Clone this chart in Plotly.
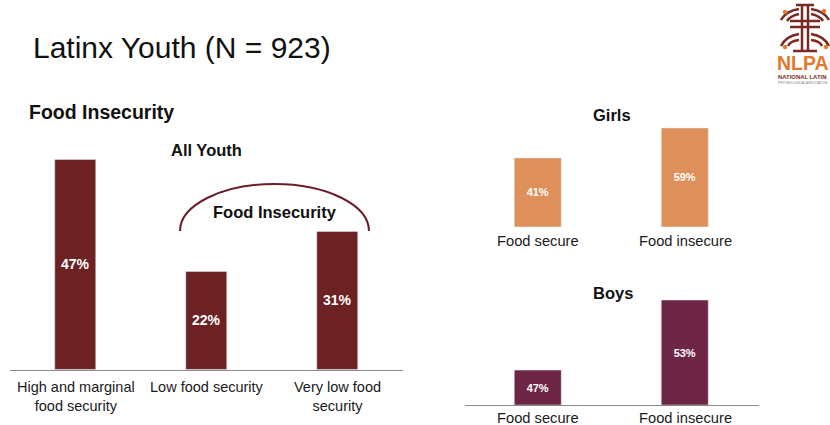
import plotly.graph_objects as go

W, H = 830, 425

# ---- data ----
all_cats = ["High and marginal\nfood security", "Low food security", "Very low food\nsecurity"]
all_vals = [47, 22, 31]
girls_cats = ["Food secure", "Food insecure"]
girls_vals = [41, 59]
boys_cats = ["Food secure", "Food insecure"]
boys_vals = [47, 53]
boys_axis_min = 44

MAROON = "#6C2123"
ORANGE = "#DE8F5A"
PLUM = "#6D2645"
BROWN = "#7A2A22"
LOGO_ORANGE = "#E07A2C"
FONT = "Liberation Sans, Arial, Helvetica, sans-serif"


def px(x):
    return x / W


def py(y):
    return 1 - y / H


fig = go.Figure()

fig.add_trace(go.Bar(
    x=list(range(len(all_vals))), y=all_vals, width=0.313, marker_color=MAROON,
    text=[f"<b>{v}%</b>" for v in all_vals], textposition="inside",
    insidetextanchor="middle", textangle=0, constraintext="none",
    textfont=dict(color="white", size=14, family=FONT),
    xaxis="x", yaxis="y", showlegend=False))

fig.add_trace(go.Bar(
    x=list(range(len(girls_vals))), y=girls_vals, width=0.313, marker_color=ORANGE,
    text=[f"<b>{v}%</b>" for v in girls_vals], textposition="inside",
    insidetextanchor="middle", textangle=0, constraintext="none",
    textfont=dict(color="white", size=11, family=FONT),
    xaxis="x2", yaxis="y2", showlegend=False))

fig.add_trace(go.Bar(
    x=list(range(len(boys_vals))), y=[v - boys_axis_min for v in boys_vals],
    base=boys_axis_min, width=0.313, marker_color=PLUM,
    text=[f"<b>{v}%</b>" for v in boys_vals], textposition="inside",
    insidetextanchor="middle", textangle=0, constraintext="none",
    textfont=dict(color="white", size=11, family=FONT),
    xaxis="x3", yaxis="y3", showlegend=False))

hidden_y = dict(visible=False, fixedrange=True)

fig.update_layout(
    width=W, height=H, margin=dict(l=0, r=0, t=0, b=0),
    paper_bgcolor="white", plot_bgcolor="rgba(0,0,0,0)",
    font=dict(family=FONT, color="#1a1a1a"),
    xaxis=dict(domain=[px(10), px(403)], range=[-0.5, 2.5], showticklabels=False,
               showgrid=False, zeroline=False, showline=True, linecolor="#8a8a8a",
               linewidth=1, ticks="", anchor="y"),
    yaxis=dict(domain=[py(370), py(146.7)], range=[0, 50], anchor="x", **hidden_y),
    xaxis2=dict(domain=[px(464.5), px(758.5)], range=[-0.5, 1.5], showticklabels=False,
                showgrid=False, zeroline=False, showline=False, ticks="", anchor="y2"),
    yaxis2=dict(domain=[py(227), py(126.2)], range=[0, 60], anchor="x2", **hidden_y),
    xaxis3=dict(domain=[px(464.5), px(758.5)], range=[-0.5, 1.5], showticklabels=False,
                showgrid=False, zeroline=False, showline=True, linecolor="#8a8a8a",
                linewidth=1, ticks="", anchor="y3"),
    yaxis3=dict(domain=[py(405), py(288.3)], range=[boys_axis_min, 54], anchor="x3", **hidden_y),
)

ann = []


def text(x, y, s, size, bold=False, xanchor="center", color="#111111", xref="paper",
         yanchor="middle"):
    ann.append(dict(
        x=x, y=py(y), xref=xref, yref="paper", text=f"<b>{s}</b>" if bold else s,
        showarrow=False, xanchor=xanchor, yanchor=yanchor,
        font=dict(size=size, color=color, family=FONT)))


# category labels
for i, lab in enumerate(all_cats):
    text(i, 377, lab.replace("\n", "<br>"), 14.5, xref="x", color="#1a1a1a", yanchor="top")
for i, lab in enumerate(girls_cats):
    text(i, 241, lab, 14.7, xref="x2", color="#1a1a1a")
for i, lab in enumerate(boys_cats):
    text(i, 418, lab, 14.7, xref="x3", color="#1a1a1a")

# titles
text(px(31), 48, "Latinx Youth (N = 923)", 30, xanchor="left")
text(px(26.5), 112, "Food Insecurity", 19.5, bold=True, xanchor="left")
text(px(206.5), 150, "All Youth", 16.5, bold=True)
text(px(274.5), 212, "Food Insecurity", 16.5, bold=True)
text(px(612), 115, "Girls", 16.5, bold=True)
text(px(612.5), 293, "Boys", 16.5, bold=True)

# logo text
text(px(775), 62.5, "NLPA", 19.5, bold=True, xanchor="left", color=LOGO_ORANGE)
text(px(776), 77, "NATIONAL LATIN", 5.9, bold=True, xanchor="left", color=BROWN)
text(px(776), 83, "PSYCHOLOGICAL ASSOCIATION", 3.2, xanchor="left", color="#777777")

fig.update_layout(annotations=ann)

shapes = []

# arc over food-insecurity bars (half ellipse)
cx, cy, rx, ry = 274.5, 231, 94.5, 47
k = 0.5523


def P(x, y):
    return f"{px(x):.5f},{py(y):.5f}"


arc = (f"M {P(cx - rx, cy)} "
       f"C {P(cx - rx, cy - k * ry)} {P(cx - k * rx, cy - ry)} {P(cx, cy - ry)} "
       f"C {P(cx + k * rx, cy - ry)} {P(cx + rx, cy - k * ry)} {P(cx + rx, cy)}")
shapes.append(dict(type="path", path=arc, xref="paper", yref="paper",
                   line=dict(color="#6B1E2A", width=2)))


def line(x0, y0, x1, y1, w=2.5, color=BROWN):
    shapes.append(dict(type="line", x0=px(x0), y0=py(y0), x1=px(x1), y1=py(y1),
                       xref="paper", yref="paper", line=dict(color=color, width=w)))


def curve(x0, y0, cx1, cy1, x1, y1, w=2.5, color=BROWN):
    shapes.append(dict(type="path", path=f"M {P(x0, y0)} Q {P(cx1, cy1)} {P(x1, y1)}",
                       xref="paper", yref="paper", line=dict(color=color, width=w)))


def dot(x, y, r=2.2, color=LOGO_ORANGE):
    shapes.append(dict(type="circle", x0=px(x - r), y0=py(y + r), x1=px(x + r), y1=py(y - r),
                       xref="paper", yref="paper", fillcolor=color, line=dict(width=0)))


# logo emblem (approximation)
line(802, 4, 802, 52)
line(808, 4, 808, 52)
line(796, 5, 814, 5)
line(790, 21, 820, 21)
line(790, 27, 820, 27)
line(793, 51, 817, 51)
curve(799, 9, 786, 11, 781, 20)
curve(799, 14, 790, 16, 787, 21)
curve(799, 34, 786, 36, 781, 46)
curve(799, 40, 790, 41, 788, 46)
curve(811, 9, 824, 11, 829, 20)
curve(811, 14, 820, 16, 823, 21)
curve(811, 34, 824, 36, 829, 46)
curve(811, 40, 820, 41, 822, 46)
dot(785, 12)
dot(824, 11)
dot(785, 47)
dot(826, 47)

fig.update_layout(shapes=shapes, bargap=0)

fig.write_html("out.html")
